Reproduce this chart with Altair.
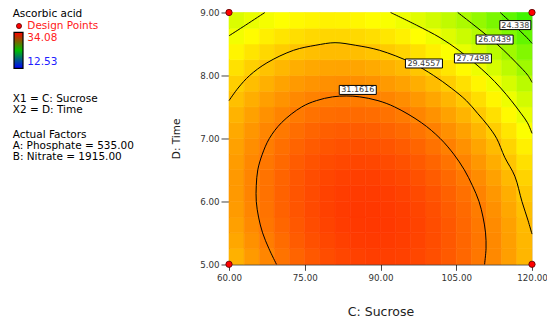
import altair as alt
import pandas as pd

# ---------------- data ----------------
# Cell centres of the response-surface grid
sucrose_centres = [61.5, 64.5, 67.5, 70.5, 73.5, 76.5, 79.5, 82.5, 85.5, 88.5,
                   91.5, 94.5, 97.5, 100.5, 103.5, 106.5, 109.5, 112.5, 115.5, 118.5]
time_centres = [5.125, 5.375, 5.625, 5.875, 6.125, 6.375, 6.625, 6.875,
                7.125, 7.375, 7.625, 7.875, 8.125, 8.375, 8.625, 8.875]

# Ascorbic acid estimates, one row per time centre (left -> right in sucrose)
acid_t5125 = [30.00, 30.53, 31.00, 31.42, 31.77, 32.06, 32.30, 32.47, 32.59, 32.64, 32.63, 32.57, 32.44, 32.25, 32.01, 31.70, 31.33, 30.91, 30.42, 29.88]
acid_t5375 = [30.22, 30.74, 31.20, 31.60, 31.95, 32.23, 32.45, 32.61, 32.71, 32.75, 32.73, 32.65, 32.51, 32.31, 32.05, 31.73, 31.36, 30.92, 30.42, 29.86]
acid_t5625 = [30.39, 30.90, 31.35, 31.73, 32.06, 32.33, 32.54, 32.69, 32.77, 32.80, 32.77, 32.68, 32.53, 32.31, 32.04, 31.71, 31.32, 30.87, 30.36, 29.78]
acid_t5875 = [30.50, 30.99, 31.43, 31.81, 32.12, 32.38, 32.57, 32.71, 32.78, 32.80, 32.75, 32.65, 32.48, 32.26, 31.97, 31.63, 31.23, 30.76, 30.24, 29.65]
acid_t6125 = [30.55, 31.03, 31.46, 31.82, 32.12, 32.36, 32.55, 32.67, 32.73, 32.73, 32.68, 32.56, 32.38, 32.15, 31.85, 31.49, 31.07, 30.60, 30.06, 29.46]
acid_t6375 = [30.55, 31.02, 31.43, 31.78, 32.07, 32.30, 32.47, 32.58, 32.63, 32.62, 32.54, 32.41, 32.22, 31.97, 31.66, 31.29, 30.86, 30.37, 29.82, 29.21]
acid_t6625 = [30.48, 30.94, 31.34, 31.67, 31.95, 32.17, 32.33, 32.42, 32.46, 32.44, 32.35, 32.21, 32.01, 31.75, 31.42, 31.04, 30.60, 30.09, 29.53, 28.91]
acid_t6875 = [30.36, 30.81, 31.19, 31.52, 31.78, 31.99, 32.13, 32.21, 32.24, 32.20, 32.11, 31.95, 31.74, 31.46, 31.12, 30.73, 30.27, 29.76, 29.18, 28.55]
acid_t7125 = [30.19, 30.62, 30.99, 31.30, 31.55, 31.74, 31.88, 31.95, 31.96, 31.91, 31.80, 31.63, 31.41, 31.12, 30.77, 30.36, 29.89, 29.36, 28.77, 28.13]
acid_t7375 = [29.95, 30.37, 30.73, 31.03, 31.27, 31.45, 31.56, 31.62, 31.62, 31.56, 31.44, 31.26, 31.02, 30.72, 30.35, 29.93, 29.45, 28.91, 28.31, 27.65]
acid_t7625 = [29.66, 30.06, 30.41, 30.70, 30.92, 31.09, 31.19, 31.24, 31.23, 31.15, 31.02, 30.83, 30.57, 30.26, 29.88, 29.45, 28.96, 28.40, 27.79, 27.11]
acid_t7875 = [29.31, 29.70, 30.03, 30.31, 30.52, 30.67, 30.77, 30.80, 30.78, 30.69, 30.54, 30.34, 30.07, 29.74, 29.36, 28.91, 28.40, 27.84, 27.21, 26.52]
acid_t8125 = [28.90, 29.28, 29.60, 29.86, 30.06, 30.20, 30.28, 30.30, 30.27, 30.17, 30.01, 29.79, 29.51, 29.17, 28.77, 28.31, 27.79, 27.21, 26.57, 25.87]
acid_t8375 = [28.44, 28.80, 29.11, 29.36, 29.55, 29.67, 29.74, 29.75, 29.70, 29.59, 29.41, 29.18, 28.89, 28.54, 28.13, 27.65, 27.12, 26.53, 25.88, 25.16]
acid_t8625 = [27.91, 28.27, 28.56, 28.80, 28.97, 29.09, 29.14, 29.14, 29.07, 28.95, 28.76, 28.52, 28.21, 27.85, 27.42, 26.94, 26.39, 25.79, 25.12, 24.40]
acid_t8875 = [27.33, 27.68, 27.96, 28.18, 28.34, 28.44, 28.49, 28.47, 28.39, 28.25, 28.06, 27.80, 27.48, 27.10, 26.67, 26.17, 25.61, 24.99, 24.32, 23.58]

# Contour lines (points traced on the picture)
c31_x = [69.4, 67.9, 66.65, 65.85, 65.4, 65.4, 65.7, 66.6, 68.0, 70.4, 74.4, 77.3, 80.5, 83.2,
         85.9, 89.5, 92.8, 98.1, 101.8, 104.5, 106.6, 108.2, 109.5, 110.3, 110.8, 110.9, 110.6]
c31_y = [5.0, 5.25, 5.5, 5.75, 6.0, 6.25, 6.5, 6.75, 7.0, 7.25, 7.5, 7.6, 7.66, 7.674,
         7.66, 7.6, 7.5, 7.25, 7.0, 6.75, 6.5, 6.25, 6.0, 5.75, 5.5, 5.25, 5.0]
c29_x = [60.0, 61.8, 64.1, 67.5, 72.8, 77.2, 81.0, 85.0, 89.8, 96.2, 100.5, 104.0, 107.0,
         109.2, 111.3, 113.0, 114.6, 116.6, 118.0, 119.2, 120.0]
c29_y = [7.60, 7.80, 8.0, 8.2, 8.4, 8.48, 8.52, 8.48, 8.4, 8.2, 8.0, 7.8, 7.6,
         7.4, 7.2, 7.0, 6.7, 6.4, 6.0, 5.7, 5.48]
c27a_x = [60.0, 63.3, 67.1]
c27a_y = [8.63, 8.8, 9.0]
c27b_x = [92.0, 97.1, 101.8, 105.5, 108.6, 111.4, 113.8, 115.9, 117.8, 119.1, 120.0]
c27b_y = [9.0, 8.8, 8.6, 8.4, 8.2, 8.0, 7.8, 7.6, 7.4, 7.25, 7.08]
c26_x = [105.3, 108.5, 111.6, 114.4, 116.9, 119.2, 120.0]
c26_y = [9.0, 8.8, 8.6, 8.4, 8.2, 8.0, 7.89]
c24_x = [113.7, 116.4, 119.0, 120.0]
c24_y = [9.0, 8.8, 8.6, 8.51]

# Contour labels
label_text = ["31.1616", "29.4557", "27.7498", "26.0439", "24.338"]
label_x = [85.5, 98.6, 108.3, 112.6, 116.7]
label_y = [7.77, 8.19, 8.27, 8.57, 8.80]

# Design points
design_x = [60, 120, 60, 120]
design_y = [5, 5, 9, 9]

# Axis ticks and colour range
sucrose_ticks = [60, 75, 90, 105, 120]
time_ticks = [5, 6, 7, 8, 9]
acid_min, acid_max = 12.53, 34.08

# ---------------- tables ----------------
acid_rows = [acid_t5125, acid_t5375, acid_t5625, acid_t5875, acid_t6125, acid_t6375,
             acid_t6625, acid_t6875, acid_t7125, acid_t7375, acid_t7625, acid_t7875,
             acid_t8125, acid_t8375, acid_t8625, acid_t8875]
dx = (sucrose_centres[1] - sucrose_centres[0]) / 2
dy = (time_centres[1] - time_centres[0]) / 2
cells = []
for t, row in zip(time_centres, acid_rows):
    for s, a in zip(sucrose_centres, row):
        cells.append({"x": s - dx, "x2": s + dx, "y": t - dy, "y2": t + dy, "acid": a})
cells = pd.DataFrame(cells)

pieces = [("31", c31_x, c31_y), ("29", c29_x, c29_y), ("27a", c27a_x, c27a_y),
          ("27b", c27b_x, c27b_y), ("26", c26_x, c26_y), ("24", c24_x, c24_y)]
lines = pd.DataFrame([{"piece": p, "ord": i, "x": x, "y": y}
                      for p, xs, ys in pieces for i, (x, y) in enumerate(zip(xs, ys))])
labels = pd.DataFrame({"label": label_text, "x": label_x, "y": label_y})
design = pd.DataFrame({"x": design_x, "y": design_y})
one = pd.DataFrame({"k": [0]})

FONT = "DejaVu Sans"

xs = alt.Scale(domain=[60, 120], nice=False, zero=False)
ys = alt.Scale(domain=[5, 9], nice=False, zero=False)
X = alt.X("x:Q", scale=xs, axis=alt.Axis(
    values=sucrose_ticks, format=".2f", title="C: Sucrose", grid=False,
    tickSize=6, tickColor="#444", labelPadding=3, labelFont=FONT, labelFontSize=8.7,
    labelColor="#333", domainColor="#000", titleFont=FONT, titleFontSize=12.5,
    titleFontWeight="normal", titleColor="#222", titlePadding=24, labelFlush=False))
Y = alt.Y("y:Q", scale=ys, axis=alt.Axis(
    values=time_ticks, format=".2f", title="D: Time", grid=False,
    tickSize=8, tickColor="#444", labelPadding=2, labelFont=FONT, labelFontSize=8.7,
    labelColor="#333", domainColor="#000", titleFont=FONT, titleFontSize=10.5,
    titleFontWeight="normal", titleColor="#222", titlePadding=18, labelFlush=False))

cs = alt.Scale(domain=[acid_min, 22.0, 28.2, acid_max],
               range=["#0000ff", "#00f000", "#ffff00", "#ff0000"], interpolate="rgb")

heat = alt.Chart(cells).mark_rect(strokeWidth=0.6).encode(
    x=X, x2="x2:Q", y=Y, y2="y2:Q",
    color=alt.Color("acid:Q", scale=cs, legend=None),
    stroke=alt.Stroke("acid:Q", scale=cs, legend=None),
)

contours = alt.Chart(lines).mark_line(color="black", strokeWidth=1, interpolate="catmull-rom").encode(
    x=X, y=Y, detail="piece:N", order="ord:Q")

box7 = alt.Chart(labels).transform_filter("length(datum.label) == 7").mark_point(
    shape="M-1,-0.243H1V0.243H-1Z", size=37 * 37, filled=True, fill="white",
    stroke="black", strokeWidth=1, opacity=1).encode(x=X, y=Y)
box6 = alt.Chart(labels).transform_filter("length(datum.label) == 6").mark_point(
    shape="M-1,-0.29H1V0.29H-1Z", size=31 * 31, filled=True, fill="white",
    stroke="black", strokeWidth=1, opacity=1).encode(x=X, y=Y)
label_txt = alt.Chart(labels).mark_text(font=FONT, fontSize=8, color="#333",
                                        align="center", baseline="middle", dy=0.5).encode(
    x=X, y=Y, text="label:N")

points = alt.Chart(design).mark_point(shape="circle", size=40, filled=True, fill="#ff0000",
                                      stroke="#550000", strokeWidth=0.8, opacity=1).encode(x=X, y=Y)


def note(text, x, y, color="#000", size=10.5):
    return alt.Chart(one).mark_text(text=text, font=FONT, fontSize=size, color=color,
                                    align="left", baseline="middle").encode(
        x=alt.value(x), y=alt.value(y))


# legend block, positioned relative to the plot's top-left corner
legend_bar = alt.Chart(one).mark_rect(
    fill={"gradient": "linear", "x1": 0, "y1": 0, "x2": 0, "y2": 1,
          "stops": [{"offset": 0, "color": "#ff0000"},
                    {"offset": 0.5, "color": "#00c000"},
                    {"offset": 1, "color": "#0000ff"}]},
    stroke="#000", strokeWidth=1.2).encode(
    x=alt.value(-215), x2=alt.value(-206), y=alt.value(19.8), y2=alt.value(55.8))
legend_dot = alt.Chart(one).mark_point(shape="circle", size=26, filled=True, fill="#ff0000",
                                       stroke="#550000", strokeWidth=0.8, opacity=1).encode(
    x=alt.value(-210), y=alt.value(13.5))

legend = [
    note("Ascorbic acid", -216.3, 1.8),
    legend_dot,
    note("Design Points", -201.7, 13.5, color="#ff2020"),
    legend_bar,
    note("34.08", -201.7, 25.2, color="#ff2020"),
    note("12.53", -201.7, 49.8, color="#2020ff"),
    note("X1 = C: Sucrose", -216.3, 86.2),
    note("X2 = D: Time", -216.3, 97.5),
    note("Actual Factors", -216.3, 122.5),
    note("A: Phosphate = 535.00", -216.3, 133.5),
    note("B: Nitrate = 1915.00", -216.3, 144.8),
]

chart = alt.layer(heat, contours, box7, box6, label_txt, points, *legend).properties(
    width=303, height=251.8,
    autosize=alt.AutoSizeParams(type="none"),
    padding={"left": 221, "top": 4.5, "right": 15, "bottom": 58},
).configure_view(stroke="#000", strokeWidth=1).configure(background="white")

chart.save("out.html", embed_options={"renderer": "svg", "actions": False})
